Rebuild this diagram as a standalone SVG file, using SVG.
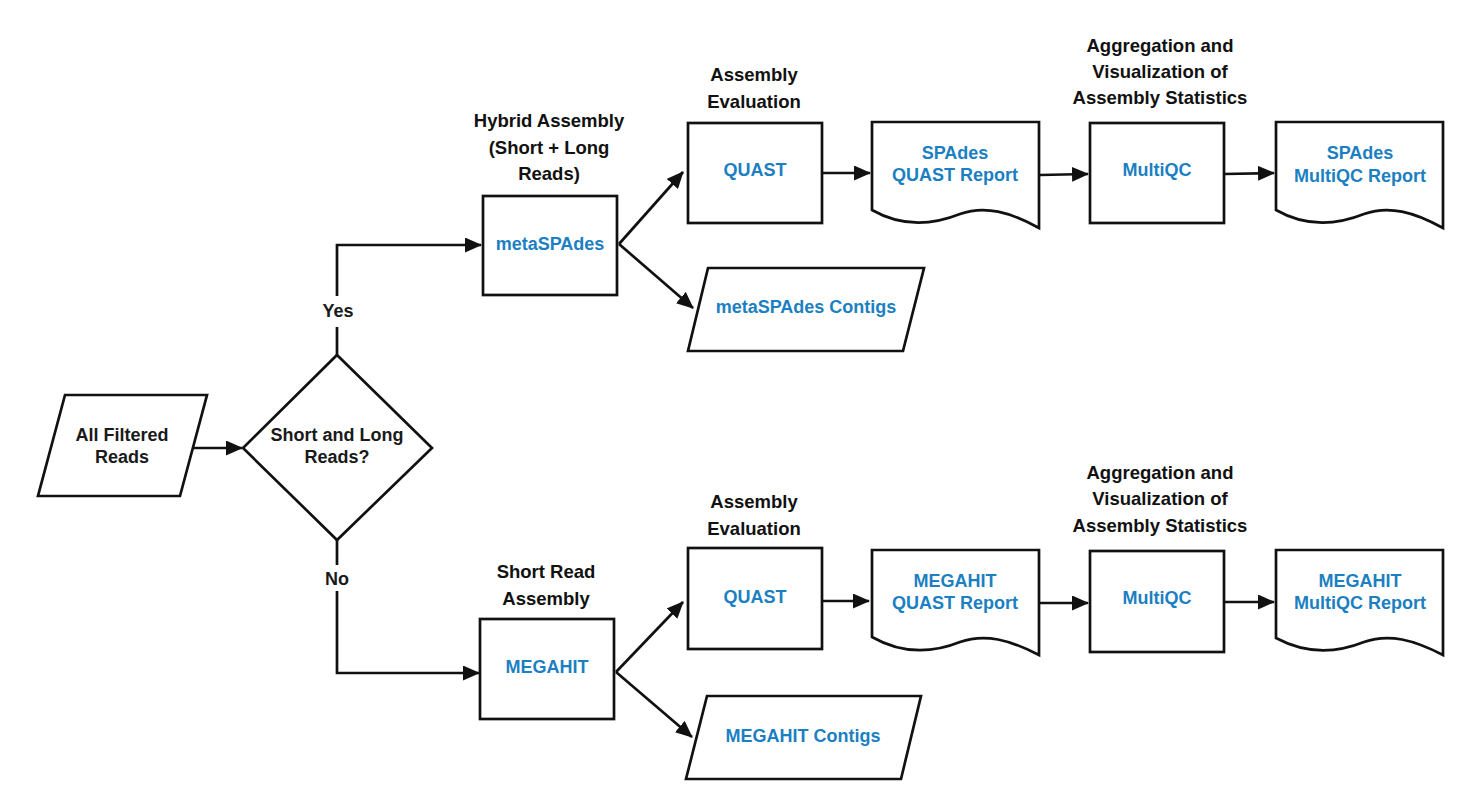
<svg xmlns="http://www.w3.org/2000/svg" width="1481" height="806" viewBox="0 0 1481 806">
<style>
.shape{fill:#fff;stroke:#111;stroke-width:2.7;stroke-linejoin:miter}
.conn{fill:none;stroke:#111;stroke-width:2.7}
.blue{font-family:"Liberation Sans",Arial,sans-serif;font-weight:bold;font-size:18px;fill:#1b7fc2;text-anchor:middle;dominant-baseline:central}
.lbl{font-family:"Liberation Sans",Arial,sans-serif;font-weight:bold;font-size:18px;fill:#1a1a1a;text-anchor:middle;dominant-baseline:central}
.title{font-family:"Liberation Sans",Arial,sans-serif;font-weight:bold;font-size:18.5px;fill:#111;text-anchor:middle;dominant-baseline:central}
</style>
<defs>
<marker id="arr" markerUnits="userSpaceOnUse" markerWidth="17" markerHeight="15" refX="16" refY="7.5" orient="auto">
<path d="M0,0 L17,7.5 L0,15 z" fill="#111"/>
</marker>
</defs>
<rect width="1481" height="806" fill="#fff"/>

<g id="connectors">
<path class="conn" d="M193,448 L242,448" marker-end="url(#arr)"/>
<path class="conn" d="M337,355 V327 M337,296 V245 H481" marker-end="url(#arr)"/>
<path class="conn" d="M337,540 V565 M337,591 V673 H479" marker-end="url(#arr)"/>
<path class="conn" d="M619,244 L683,172" marker-end="url(#arr)"/>
<path class="conn" d="M619,244 L693,308" marker-end="url(#arr)"/>
<path class="conn" d="M822,173 L870,173" marker-end="url(#arr)"/>
<path class="conn" d="M1040,175 L1088,174" marker-end="url(#arr)"/>
<path class="conn" d="M1224,174 L1274,173" marker-end="url(#arr)"/>
<path class="conn" d="M616,672 L683,602" marker-end="url(#arr)"/>
<path class="conn" d="M616,672 L692,737" marker-end="url(#arr)"/>
<path class="conn" d="M822,601 L869,601" marker-end="url(#arr)"/>
<path class="conn" d="M1040,603 L1088,603" marker-end="url(#arr)"/>
<path class="conn" d="M1224,602 L1274,602" marker-end="url(#arr)"/>
<text class="lbl" x="338" y="311">Yes</text>
<text class="lbl" x="337" y="579">No</text>
</g>

<g id="all-filtered-reads">
<polygon class="shape" points="65,395 207,395 180,496 38,496"/>
<text class="lbl" x="122" y="435">All Filtered</text>
<text class="lbl" x="122" y="457">Reads</text>
</g>

<g id="decision">
<polygon class="shape" points="337,355 432,448 337,540 243,448"/>
<text class="lbl" x="337" y="435">Short and Long</text>
<text class="lbl" x="337" y="457">Reads?</text>
</g>

<g id="title-hybrid">
<text class="title" x="549" y="120">Hybrid Assembly</text>
<text class="title" x="549" y="147">(Short + Long</text>
<text class="title" x="549" y="173">Reads)</text>
</g>
<g id="metaspades">
<rect class="shape" x="483" y="196" width="134" height="99"/>
<text class="blue" x="550" y="244">metaSPAdes</text>
</g>

<g id="title-eval-top">
<text class="title" x="754" y="74">Assembly</text>
<text class="title" x="754" y="101">Evaluation</text>
</g>
<g id="quast-top">
<rect class="shape" x="688" y="123" width="134" height="100"/>
<text class="blue" x="755" y="170">QUAST</text>
</g>

<g id="metaspades-contigs">
<polygon class="shape" points="708,268 924,268 903,351 688,351"/>
<text class="blue" x="806" y="307">metaSPAdes Contigs</text>
</g>

<g id="spades-quast-report">
<path class="shape" d="M872,122 H1039 V228 C1010,212 985,205 960,214 C930,226 900,226 872,210 Z"/>
<text class="blue" x="955" y="153">SPAdes</text>
<text class="blue" x="955" y="175">QUAST Report</text>
</g>

<g id="title-agg-top">
<text class="title" x="1160" y="45">Aggregation and</text>
<text class="title" x="1160" y="71">Visualization of</text>
<text class="title" x="1160" y="97">Assembly Statistics</text>
</g>
<g id="multiqc-top">
<rect class="shape" x="1090" y="123" width="134" height="100"/>
<text class="blue" x="1157" y="170">MultiQC</text>
</g>

<g id="spades-multiqc-report">
<path class="shape" d="M1276,122 H1443 V228 C1414,212 1389,205 1364,214 C1334,226 1304,226 1276,210 Z"/>
<text class="blue" x="1360" y="153">SPAdes</text>
<text class="blue" x="1360" y="176">MultiQC Report</text>
</g>

<g id="title-short">
<text class="title" x="546" y="571">Short Read</text>
<text class="title" x="546" y="598">Assembly</text>
</g>
<g id="megahit">
<rect class="shape" x="480" y="619" width="134" height="100"/>
<text class="blue" x="547" y="667">MEGAHIT</text>
</g>

<g id="title-eval-bottom">
<text class="title" x="754" y="501">Assembly</text>
<text class="title" x="754" y="528">Evaluation</text>
</g>
<g id="quast-bottom">
<rect class="shape" x="688" y="548" width="134" height="101"/>
<text class="blue" x="755" y="597">QUAST</text>
</g>

<g id="megahit-contigs">
<polygon class="shape" points="707,696 921,696 901,779 686,779"/>
<text class="blue" x="803" y="736">MEGAHIT Contigs</text>
</g>

<g id="megahit-quast-report">
<path class="shape" d="M872,550 H1039 V655 C1010,640 985,633 960,642 C930,654 900,653 872,637 Z"/>
<text class="blue" x="955" y="581">MEGAHIT</text>
<text class="blue" x="955" y="603">QUAST Report</text>
</g>

<g id="title-agg-bottom">
<text class="title" x="1160" y="472">Aggregation and</text>
<text class="title" x="1160" y="498">Visualization of</text>
<text class="title" x="1160" y="525">Assembly Statistics</text>
</g>
<g id="multiqc-bottom">
<rect class="shape" x="1090" y="551" width="134" height="101"/>
<text class="blue" x="1157" y="598">MultiQC</text>
</g>

<g id="megahit-multiqc-report">
<path class="shape" d="M1276,550 H1443 V655 C1414,640 1389,633 1364,642 C1334,654 1304,653 1276,638 Z"/>
<text class="blue" x="1360" y="581">MEGAHIT</text>
<text class="blue" x="1360" y="603">MultiQC Report</text>
</g>
</svg>
